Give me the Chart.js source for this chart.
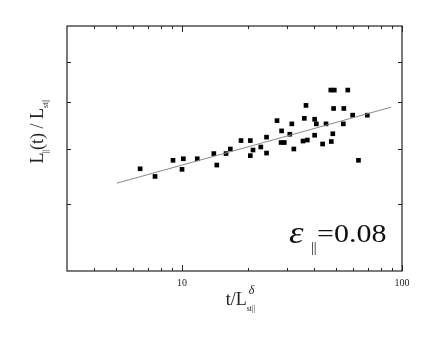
<!DOCTYPE html>
<html>
<head>
<meta charset="utf-8">
<script src="https://cdn.jsdelivr.net/npm/chart.js@4"></script>
<style>
  html, body { margin: 0; background: #fff; }
</style>
</head>
<body>
<canvas id="chart" width="436" height="340"></canvas>
<script>
// values (log-log axes)
const xPoints = [6.45, 7.54, 9.10, 10.14, 10.0, 11.73, 13.95, 14.39, 15.85, 16.58,
  18.54, 20.44, 20.44, 21.02, 22.81, 24.22, 24.22, 27.03, 28.36, 28.2,
  29.17, 30.9, 31.56, 32.23, 35.97, 36.61, 35.48, 37.12, 40.07, 40.79,
  40.07, 43.56, 45.14, 47.71, 48.47, 47.47, 49.23, 48.87, 54.4, 54.1,
  56.7, 59.65, 63.4, 69.55];
const yPoints = [0.561, 0.547, 0.577, 0.580, 0.560, 0.580, 0.590, 0.568, 0.590, 0.599,
  0.616, 0.616, 0.586, 0.597, 0.603, 0.623, 0.591, 0.658, 0.636, 0.612,
  0.612, 0.629, 0.651, 0.599, 0.663, 0.692, 0.615, 0.617, 0.661, 0.651,
  0.627, 0.609, 0.651, 0.614, 0.630, 0.728, 0.728, 0.685, 0.685, 0.651,
  0.728, 0.670, 0.577, 0.670];
const fitX = [5.06, 89.3];
const fitY = [0.535, 0.688];

const xMajorTicks = [10, 100];
const xTickLabels = ['10', '100'];
const xMinorTicks = [4, 5, 6, 7, 8, 9, 20, 30, 40, 50, 60, 70, 80, 90];
const yTicks = [0.5, 0.6, 0.7, 0.8];

const serif = '"Liberation Serif", "Times New Roman", Times, serif';

// draws a row of text pieces (for sub/superscripts), centred on cx
function drawRuns(ctx, cx, cy, runs, angle = 0) {
  ctx.save();
  ctx.translate(cx, cy);
  ctx.rotate(angle);
  ctx.fillStyle = '#222';
  ctx.textBaseline = 'alphabetic';
  ctx.textAlign = 'left';
  let total = 0;
  runs.forEach((r) => {
    ctx.font = r.font;
    r.w = r.noAdvance ? 0 : ctx.measureText(r.text).width + (r.gap || 0);
    total += r.w;
  });
  let x = -total / 2;
  runs.forEach((r) => {
    ctx.font = r.font;
    ctx.fillText(r.text, x + (r.dx || 0), r.dy || 0);
    x += r.w;
  });
  ctx.restore();
}

function wideText(ctx, text, font, x, y, sx) {
  ctx.save();
  ctx.translate(x, y);
  ctx.scale(sx, 1);
  ctx.font = font;
  ctx.fillText(text, 0, 0);
  ctx.restore();
}

const framePlugin = {
  id: 'frame',
  afterDraw(chart) {
    const { ctx, chartArea: a, scales } = chart;
    const xs = scales.x, ys = scales.y;
    ctx.save();
    ctx.strokeStyle = '#222';
    ctx.lineWidth = 1.2;
    ctx.strokeRect(a.left, a.top, a.right - a.left, a.bottom - a.top);

    ctx.lineWidth = 1;
    ctx.beginPath();
    const tickX = (v, len) => {
      const px = Math.round(xs.getPixelForValue(v)) + 0.5;
      ctx.moveTo(px, a.bottom); ctx.lineTo(px, a.bottom - len);
      ctx.moveTo(px, a.top); ctx.lineTo(px, a.top + len);
    };
    xMajorTicks.forEach((v) => tickX(v, 6));
    xMinorTicks.forEach((v) => tickX(v, 3));
    yTicks.forEach((v) => {
      const py = Math.round(ys.getPixelForValue(v)) + 0.5;
      ctx.moveTo(a.left, py); ctx.lineTo(a.left + 4, py);
      ctx.moveTo(a.right, py); ctx.lineTo(a.right - 4, py);
    });
    ctx.stroke();

    // tick labels
    ctx.fillStyle = '#222';
    ctx.font = `10px ${serif}`;
    ctx.textAlign = 'center';
    ctx.textBaseline = 'alphabetic';
    xMajorTicks.forEach((v, i) => {
      ctx.fillText(xTickLabels[i], xs.getPixelForValue(v), a.bottom + 15);
    });
    ctx.restore();

    // x axis title: t/L_st||^delta
    drawRuns(ctx, 241, 305, [
      { text: 't/L', font: `18px ${serif}` },
      { text: 'δ', font: `italic 12px ${serif}`, dy: -11, dx: 2, noAdvance: true },
      { text: 'st||', font: `8px ${serif}`, dy: 6, gap: 1 },
    ]);

    // y axis title: L_||(t) / L_st||
    drawRuns(ctx, 43, 131, [
      { text: 'L', font: `18px ${serif}` },
      { text: '||', font: `9px ${serif}`, dy: 5, dx: -1, gap: -1 },
      { text: '(t) / L', font: `18px ${serif}` },
      { text: 'st||', font: `8px ${serif}`, dy: 5, gap: 1 },
    ], -Math.PI / 2);

    // annotation
    ctx.save();
    ctx.fillStyle = '#111';
    ctx.textBaseline = 'alphabetic';
    ctx.textAlign = 'left';
    wideText(ctx, 'ε', `italic 32px ${serif}`, 289, 243, 1.15);
    wideText(ctx, '||', `14px ${serif}`, 311, 252, 1);
    wideText(ctx, '=0.08', `25px ${serif}`, 317, 242, 1.2);
    ctx.restore();
  },
};

new Chart(document.getElementById('chart'), {
  data: {
    datasets: [
      {
        type: 'line',
        data: fitX.map((x, i) => ({ x, y: fitY[i] })),
        borderColor: '#888',
        borderWidth: 1,
        pointRadius: 0,
        fill: false,
      },
      {
        type: 'scatter',
        data: xPoints.map((x, i) => ({ x, y: yPoints[i] })),
        pointStyle: 'rect',
        pointRadius: 3.3,
        backgroundColor: '#000',
        borderColor: '#000',
        borderWidth: 0,
      },
    ],
  },
  options: {
    responsive: false,
    devicePixelRatio: 1,
    animation: false,
    layout: { padding: { left: 67, right: 34, top: 26, bottom: 69 } },
    plugins: { legend: { display: false }, tooltip: { enabled: false } },
    scales: {
      x: { type: 'logarithmic', min: 3, max: 100, display: false },
      y: { type: 'logarithmic', min: 0.4, max: 0.9, display: false },
    },
  },
  plugins: [framePlugin],
});
</script>
</body>
</html>
